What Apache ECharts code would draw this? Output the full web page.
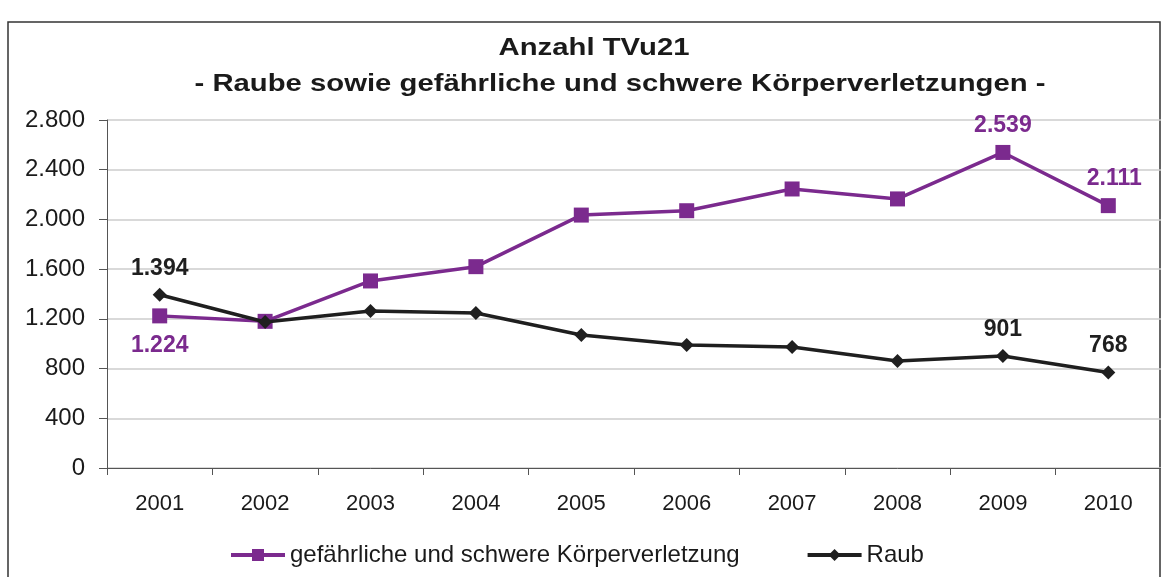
<!DOCTYPE html>
<html>
<head>
<meta charset="utf-8">
<script src="https://cdn.jsdelivr.net/npm/echarts@6/dist/echarts.min.js"></script>
<style>
  html, body { margin: 0; padding: 0; background: #fff; }
  #main { width: 1161px; height: 577px; }
</style>
</head>
<body>
<div id="main"></div>
<script>
var years = ['2001', '2002', '2003', '2004', '2005', '2006', '2007', '2008', '2009', '2010'];
var koerperverletzung = [1224, 1180, 1505, 1620, 2035, 2070, 2245, 2165, 2539, 2111];
var raub = [1394, 1175, 1263, 1247, 1070, 990, 973, 861, 901, 768];
// which points get a value label
var kvLabels = [0, 8, 9];
var raubLabels = [0, 8, 9];

function fmt(v) {
  return String(v).replace(/\B(?=(\d{3})+(?!\d))/g, '.');
}

var font = 'Liberation Sans, Arial, sans-serif';
var chart = echarts.init(document.getElementById('main'));

function labelled(values, idx, color, posFn) {
  return values.map(function (v, i) {
    if (idx.indexOf(i) < 0) return v;
    var pos = posFn(i);
    return {
      value: v,
      label: {
        show: true,
        position: pos,
        distance: pos === 'bottom' ? 11 : 8,
        offset: i === 9 && color !== '#1f1f1f' ? [6, 0] : [0, 0],
        formatter: function (p) { return fmt(p.value); },
        color: color,
        fontFamily: font,
        fontWeight: 'bold',
        fontSize: 23
      }
    };
  });
}

var option = {
  animation: false,
  backgroundColor: '#fff',
  graphic: [
    {
      type: 'polyline',
      shape: { points: [[8, 577], [8, 22], [1160, 22], [1160, 577]] },
      style: { stroke: '#333', lineWidth: 1.5, fill: null }
    },
    {
      type: 'text', x: 594, y: 48, scaleX: 1.22,
      style: {
        text: 'Anzahl TVu21', textAlign: 'center', textVerticalAlign: 'middle',
        font: 'bold 24px ' + font, fill: '#1a1a1a'
      }
    },
    {
      type: 'text', x: 620, y: 84, scaleX: 1.22,
      style: {
        text: '- Raube sowie gefährliche und schwere Körperverletzungen -',
        textAlign: 'center', textVerticalAlign: 'middle',
        font: 'bold 24px ' + font, fill: '#1a1a1a'
      }
    }
  ],
  grid: { left: 107, top: 120, width: 1058, height: 348 },
  legend: {
    top: 538,
    left: 224,
    itemGap: 66,
    itemWidth: 54,
    itemHeight: 15,
    lineStyle: { width: 4 },
    textStyle: { fontFamily: font, fontSize: 24, color: '#1a1a1a' },
    data: ['gefährliche und schwere Körperverletzung', 'Raub']
  },
  xAxis: {
    type: 'category',
    data: years,
    boundaryGap: true,
    axisLine: { lineStyle: { color: '#555', width: 1 } },
    axisTick: { show: true, length: 7, lineStyle: { color: '#555' } },
    axisLabel: { margin: 25, fontFamily: font, fontSize: 22, color: '#1a1a1a' }
  },
  yAxis: {
    type: 'value',
    min: 0, max: 2800, interval: 400,
    axisLine: { show: true, lineStyle: { color: '#555', width: 1 } },
    axisTick: { show: true, length: 8, lineStyle: { color: '#555' } },
    axisLabel: {
      margin: 22, fontFamily: font, fontSize: 24, color: '#1a1a1a',
      formatter: function (v) { return fmt(v); }
    },
    splitLine: { lineStyle: { color: '#cdcdcd', width: 1.5 } }
  },
  series: [
    {
      name: 'gefährliche und schwere Körperverletzung',
      type: 'line',
      data: labelled(koerperverletzung, kvLabels, '#7b2a8e', function (i) { return i === 0 ? 'bottom' : 'top'; }),
      symbol: 'rect',
      symbolSize: 15,
      itemStyle: { color: '#7b2a8e' },
      lineStyle: { color: '#7b2a8e', width: 3.5 },
      z: 2
    },
    {
      name: 'Raub',
      type: 'line',
      data: labelled(raub, raubLabels, '#1f1f1f', function () { return 'top'; }),
      symbol: 'diamond',
      symbolSize: 14,
      itemStyle: { color: '#1f1f1f' },
      lineStyle: { color: '#1f1f1f', width: 3.5 },
      z: 3
    }
  ]
};

chart.setOption(option);
</script>
</body>
</html>
